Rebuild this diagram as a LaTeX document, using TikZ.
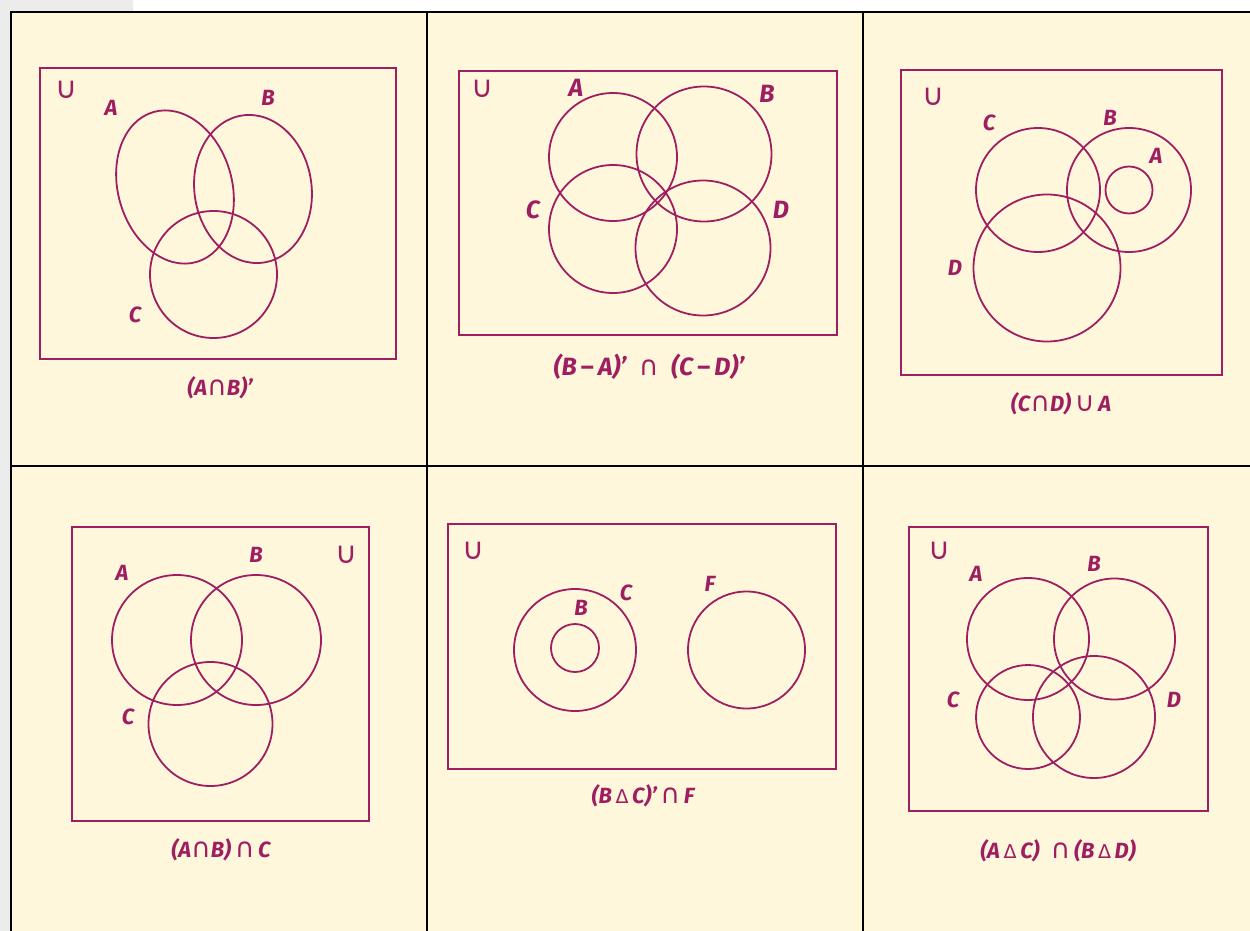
\documentclass[tikz,border=0pt]{standalone}
\usepackage{fontspec}
\setmainfont{Fira Sans}
\newfontfamily\symfont{DejaVu Sans}
\usepackage{xcolor}
\definecolor{venn}{RGB}{158,30,98}
\definecolor{paper}{RGB}{255,247,219}
\definecolor{margin}{RGB}{236,236,236}
\newcommand{\isect}{{\symfont\upshape\mdseries\fontsize{27}{20}\selectfont ∩}}
\newcommand{\union}{{\symfont\upshape\mdseries\fontsize{30}{20}\selectfont ∪}}
\newcommand{\cupop}{{\symfont\upshape\mdseries\fontsize{27}{20}\selectfont ∪}}
\newcommand{\sdiff}{{\symfont\upshape\mdseries\fontsize{19}{18}\selectfont Δ}}

\begin{document}
\begin{tikzpicture}[
  x=1pt, y=-1pt,
  grid/.style={draw=black, line width=2.5pt},
  set/.style={draw=venn, line width=1.8pt},
  every node/.style={text=venn, inner sep=0pt, font=\bfseries\itshape\fontsize{22}{24}\selectfont},
  caption/.style={font=\bfseries\itshape\fontsize{22}{26}\selectfont},
  biglbl/.style={font=\bfseries\itshape\fontsize{25}{28}\selectfont}
]
\useasboundingbox (0,0) rectangle (1250,931);
\fill[white] (0,0) rectangle (1250,931);
\fill[margin] (0,0) -- (133,0) -- (133,12) -- (11,12) -- (11,931) -- (0,931) -- cycle;
\fill[paper] (11,12) rectangle (1260,940);
% grid of the six panels
\draw[grid] (11,940) -- (11,12) -- (1260,12);
\draw[grid] (11,466) -- (1260,466);
\draw[grid] (427,12) -- (427,940);
\draw[grid] (863,12) -- (863,940);

% (A n B)'
\draw[set] (40,68) rectangle (396,359);
\draw[set, rotate around={16:(175,187)}] (175,187) ellipse [x radius=57, y radius=78];
\draw[set, rotate around={8:(253,189)}] (253,189) ellipse [x radius=58.6, y radius=74.3];
\draw[set] (213.5,274.5) circle [radius=63.5];
\node (u1) at (66,90) {\union};
\node (a1) at (111,108) {A};
\node (b1) at (268,98) {B};
\node (c1) at (135,315) {C};
\node[caption] (cap1) at (220,388) {(A\isect B)’};

% (B - A)' n (C - D)'
\draw[set] (459,71) rectangle (837,335);
\draw[set] (613,157) circle [radius=64];
\draw[set] (704,154) circle [radius=67.5];
\draw[set] (613,229) circle [radius=64];
\draw[set] (703,248) circle [radius=67.5];
\node (u2) at (482,89) {\union};
\node[biglbl] (a2) at (576,88) {A};
\node[biglbl] (b2) at (767,94) {B};
\node[biglbl] (c2) at (533,210) {C};
\node[biglbl] (d2) at (781,210) {D};
\node[biglbl] (cap2) at (649,367) {(B\,{\upshape –}\,A)’\enspace\isect\enspace(C\,{\upshape –}\,D)’};

% (C n D) u A
\draw[set] (901,70) rectangle (1222,375);
\draw[set] (1038,190) circle [radius=62];
\draw[set] (1129,190) circle [radius=62];
\draw[set] (1129,190) circle [radius=23.5];
\draw[set] (1047,268) circle [radius=73.5];
\node (u3) at (933,97) {\union};
\node (c3) at (989,123) {C};
\node (b3) at (1110,118) {B};
\node (a3) at (1156,156) {A};
\node (d3) at (955,268) {D};
\node[caption] (cap3) at (1061,404) {(C\isect D)\,\cupop\,A};

% (A n B) n C
\draw[set] (72,527) rectangle (369,821);
\draw[set] (177,640) circle [radius=65];
\draw[set] (256,640) circle [radius=65];
\draw[set] (210.5,724) circle [radius=62];
\node (u4) at (346,555) {\union};
\node (a4) at (122,573) {A};
\node (b4) at (256,555) {B};
\node (c4) at (128,717) {C};
\node[caption] (cap4) at (221,850) {(A\isect B)\,\isect\,C};

% (B d C)' n F
\draw[set] (448,524) rectangle (836,769);
\draw[set] (575,650) circle [radius=61];
\draw[set] (575,648) circle [radius=24];
\draw[set] (746.5,650) circle [radius=58.5];
\node (u5) at (473,551) {\union};
\node (b5) at (581,608) {B};
\node (c5) at (626,593) {C};
\node (f5) at (710,584) {F};
\node[caption] (cap5) at (643,796) {(B\,\sdiff\,C)’\,\isect\,F};

% (A d C) n (B d D)
\draw[set] (909,527) rectangle (1208,811);
\draw[set] (1028,639) circle [radius=61];
\draw[set] (1114.5,639) circle [radius=60.5];
\draw[set] (1028,717) circle [radius=52];
\draw[set] (1094,717) circle [radius=61];
\node (u6) at (939,551) {\union};
\node (a6) at (976,574) {A};
\node (b6) at (1094,564) {B};
\node (c6) at (953,700) {C};
\node (d6) at (1174,700) {D};
\node[caption] (cap6) at (1058,851) {(A\,\sdiff\,C)\enspace\isect\,(B\,\sdiff\,D)};
\end{tikzpicture}
\end{document}
